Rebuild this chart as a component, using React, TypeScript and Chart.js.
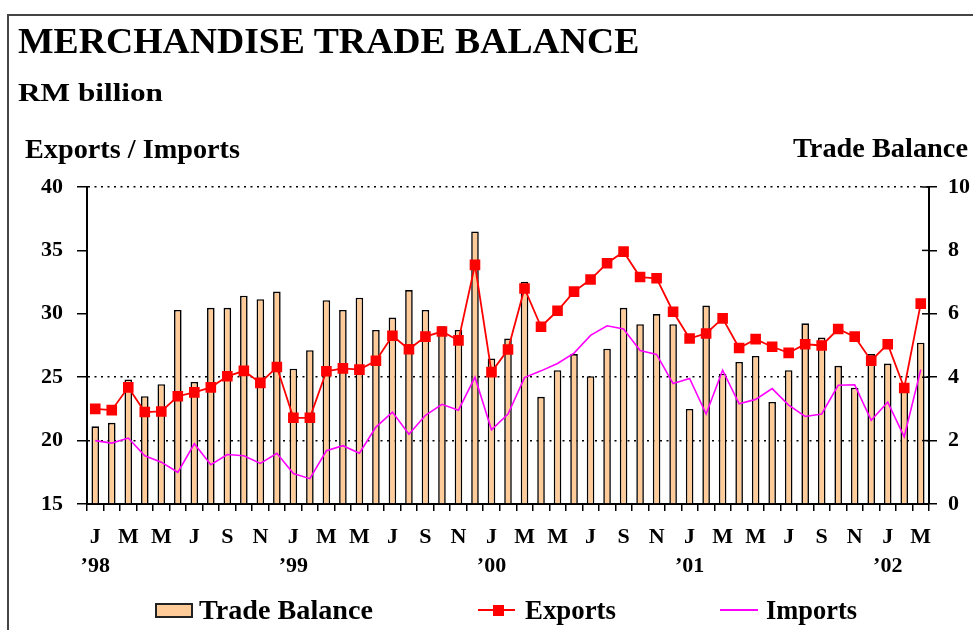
import React, { useEffect, useRef } from 'react';
import { Chart, registerables } from 'chart.js';

Chart.register(...registerables);

const FONT = "'Liberation Serif', 'Times New Roman', Times, serif";

const categories = [
  'Jan 98', 'Feb 98', 'Mar 98', 'Apr 98', 'May 98', 'Jun 98', 'Jul 98', 'Aug 98', 'Sep 98', 'Oct 98', 'Nov 98', 'Dec 98',
  'Jan 99', 'Feb 99', 'Mar 99', 'Apr 99', 'May 99', 'Jun 99', 'Jul 99', 'Aug 99', 'Sep 99', 'Oct 99', 'Nov 99', 'Dec 99',
  'Jan 00', 'Feb 00', 'Mar 00', 'Apr 00', 'May 00', 'Jun 00', 'Jul 00', 'Aug 00', 'Sep 00', 'Oct 00', 'Nov 00', 'Dec 00',
  'Jan 01', 'Feb 01', 'Mar 01', 'Apr 01', 'May 01', 'Jun 01', 'Jul 01', 'Aug 01', 'Sep 01', 'Oct 01', 'Nov 01', 'Dec 01',
  'Jan 02', 'Feb 02', 'Mar 02',
];

const xTickLabels: (string | string[])[] = [
  ['J', '\u201998'], '', 'M', '', 'M', '', 'J', '', 'S', '', 'N', '',
  ['J', '\u201999'], '', 'M', '', 'M', '', 'J', '', 'S', '', 'N', '',
  ['J', '\u201900'], '', 'M', '', 'M', '', 'J', '', 'S', '', 'N', '',
  ['J', '\u201901'], '', 'M', '', 'M', '', 'J', '', 'S', '', 'N', '',
  ['J', '\u201902'], '', 'M',
];

// Trade balance (right axis, RM billion)
const tradeBalance = [
  2.45, 2.56, 3.93, 3.4, 3.78, 6.12, 3.85, 6.19, 6.19, 6.57, 6.46, 6.7,
  4.27, 4.85, 6.43, 6.12, 6.51, 5.49, 5.88, 6.75, 6.12, 5.61, 5.49, 8.6,
  4.59, 5.22, 7.01, 3.38, 4.22, 4.73, 4.03, 4.9, 6.19, 5.67, 5.99, 5.67,
  3.0, 6.26, 4.11, 4.48, 4.67, 3.22, 4.22, 5.7, 5.25, 4.36, 3.67, 4.73,
  4.43, 3.78, 5.09,
];

// Exports (left axis, RM billion)
const exportsData = [
  22.5, 22.4, 24.2, 22.25, 22.3, 23.5, 23.8, 24.2, 25.07, 25.5, 24.55, 25.8,
  21.8, 21.8, 25.47, 25.7, 25.6, 26.3, 28.27, 27.2, 28.2, 28.6, 27.9, 33.86,
  25.4, 27.18, 32.0, 28.98, 30.24, 31.75, 32.7, 33.99, 34.9, 32.9, 32.8, 30.16,
  28.05, 28.45, 29.64, 27.3, 28.0, 27.4, 26.92, 27.6, 27.5, 28.8, 28.2, 26.3,
  27.6, 24.15, 30.8,
];

// Imports (left axis, RM billion)
const importsData = [
  20.0, 19.8, 20.2, 18.8, 18.3, 17.5, 19.75, 18.1, 18.9, 18.8, 18.2, 19.0,
  17.4, 17.0, 19.2, 19.6, 19.0, 21.07, 22.25, 20.5, 22.0, 22.86, 22.4, 25.0,
  20.85, 22.1, 24.97, 25.5, 26.08, 26.9, 28.3, 29.06, 28.8, 27.1, 26.8, 24.5,
  24.9, 22.1, 25.55, 22.9, 23.25, 24.1, 22.8, 21.9, 22.1, 24.36, 24.4, 21.6,
  23.04, 20.3, 25.6,
];

const leftGridValues = [20, 25, 40];

function measure(text: string, size: number): number {
  const c = document.createElement('canvas').getContext('2d');
  if (!c) return 1;
  c.font = `bold ${size}px ${FONT}`;
  return c.measureText(text).width || 1;
}

function Txt(props: { text: string; left: number; baseline: number; size: number; width: number }) {
  const { text, left, baseline, size, width } = props;
  const sx = width / measure(text, size);
  return (
    <div
      style={{
        position: 'absolute',
        left,
        top: baseline - 0.8375 * size,
        fontFamily: FONT,
        fontWeight: 'bold',
        fontSize: size,
        lineHeight: `${size}px`,
        whiteSpace: 'nowrap',
        transform: `scaleX(${sx})`,
        transformOrigin: 'left top',
        color: '#000',
      }}
    >
      {text}
    </div>
  );
}

const innerTicks = {
  id: 'innerTicks',
  afterDatasetsDraw(chart: any) {
    const s = chart.scales.y1;
    const ctx = chart.ctx;
    ctx.save();
    ctx.strokeStyle = '#000';
    ctx.lineWidth = 1.5;
    s.ticks.forEach((t: any) => {
      const y = s.getPixelForValue(t.value);
      ctx.beginPath();
      ctx.moveTo(s.left - 7, y);
      ctx.lineTo(s.left, y);
      ctx.stroke();
    });
    ctx.restore();
  },
};

export default function App() {
  const ref = useRef<HTMLCanvasElement>(null);

  useEffect(() => {
    const tickFont = { family: FONT, size: 22, weight: 'bold' as const };
    const chart = new Chart(ref.current as HTMLCanvasElement, {
      type: 'bar',
      data: {
        labels: categories,
        datasets: [
          {
            type: 'line',
            label: 'Exports',
            data: exportsData,
            yAxisID: 'y',
            borderColor: '#FF0000',
            backgroundColor: '#FF0000',
            borderWidth: 1.8,
            pointStyle: 'rect',
            pointRadius: 7.5,
            pointBorderWidth: 0,
            pointBackgroundColor: '#FF0000',
            tension: 0,
            order: 0,
          } as any,
          {
            type: 'line',
            label: 'Imports',
            data: importsData,
            yAxisID: 'y',
            borderColor: '#FF00FF',
            backgroundColor: '#FF00FF',
            borderWidth: 1.6,
            pointRadius: 0,
            tension: 0,
            order: 1,
          } as any,
          {
            type: 'bar',
            label: 'Trade Balance',
            data: tradeBalance,
            yAxisID: 'y1',
            backgroundColor: '#FFCC99',
            borderColor: '#000000',
            borderWidth: 1.6,
            barPercentage: 0.46,
            categoryPercentage: 1,
            order: 2,
          } as any,
        ],
      },
      options: {
        responsive: false,
        animation: false,
        layout: { padding: { top: 187, bottom: 41, left: 0, right: 0 } },
        plugins: {
          legend: { display: false },
          tooltip: { enabled: false },
          title: { display: false },
        },
        scales: {
          x: {
            type: 'category',
            offset: true,
            grid: {
              offset: true,
              drawOnChartArea: false,
              drawTicks: true,
              tickLength: 7,
              color: '#000',
              lineWidth: 1.5,
            },
            border: { display: true, color: '#000', width: 2 },
            ticks: {
              autoSkip: false,
              maxRotation: 0,
              minRotation: 0,
              padding: 12,
              color: '#000',
              font: { ...tickFont, lineHeight: 1.3 },
              callback: (_v: any, i: number) => xTickLabels[i],
            },
            afterFit: (s: any) => {
              s.height = 85;
            },
          },
          y: {
            position: 'left',
            min: 15,
            max: 40,
            ticks: { stepSize: 5, padding: 14, color: '#000', font: tickFont },
            grid: {
              drawTicks: true,
              tickLength: 10,
              lineWidth: 1.5,
              color: (c: any) => (leftGridValues.includes(c.tick && c.tick.value) ? '#000' : 'rgba(0,0,0,0)'),
              tickColor: '#000',
            },
            border: { display: true, color: '#000', width: 2, dash: [2, 4.5] },
            afterFit: (s: any) => {
              s.width = 87;
            },
          },
          y1: {
            position: 'right',
            min: 0,
            max: 10,
            ticks: { stepSize: 2, padding: 11, color: '#000', font: tickFont },
            grid: { drawOnChartArea: false, drawTicks: true, tickLength: 8, lineWidth: 1.5, color: '#000' },
            border: { display: true, color: '#000', width: 2 },
            afterFit: (s: any) => {
              s.width = 44;
            },
          },
        },
      },
      plugins: [innerTicks],
    });
    return () => chart.destroy();
  }, []);

  return (
    <div
      style={{
        position: 'fixed',
        left: 0,
        top: 0,
        width: 973,
        height: 630,
        background: '#fff',
        overflow: 'hidden',
      }}
    >
      <div
        style={{
          position: 'absolute',
          left: 7,
          top: 14,
          width: 990,
          height: 640,
          borderTop: '2px solid #444',
          borderLeft: '2px solid #444',
        }}
      />
      <canvas
        ref={ref}
        width={973}
        height={630}
        style={{ position: 'absolute', left: 0, top: 0, width: 973, height: 630, display: 'block' }}
      />
      <Txt text="MERCHANDISE TRADE BALANCE" left={18} baseline={53.5} size={35} width={622} />
      <Txt text="RM billion" left={18} baseline={100.5} size={25} width={145} />
      <Txt text="Exports / Imports" left={25} baseline={158.3} size={28} width={215} />
      <Txt text="Trade Balance" left={793} baseline={157.7} size={28} width={175} />

      <div
        style={{
          position: 'absolute',
          left: 155,
          top: 603,
          width: 38,
          height: 15,
          boxSizing: 'border-box',
          background: '#FFCC99',
          border: '2px solid #222',
        }}
      />
      <Txt text="Trade Balance" left={199} baseline={619.3} size={28} width={174} />

      <div style={{ position: 'absolute', left: 478, top: 609, width: 37, height: 2, background: '#FF0000' }} />
      <div style={{ position: 'absolute', left: 493, top: 605, width: 11, height: 11, background: '#FF0000' }} />
      <Txt text="Exports" left={525} baseline={619.3} size={28} width={91} />

      <div style={{ position: 'absolute', left: 720, top: 609, width: 38, height: 2, background: '#FF00FF' }} />
      <Txt text="Imports" left={766} baseline={619.3} size={28} width={91} />
    </div>
  );
}
